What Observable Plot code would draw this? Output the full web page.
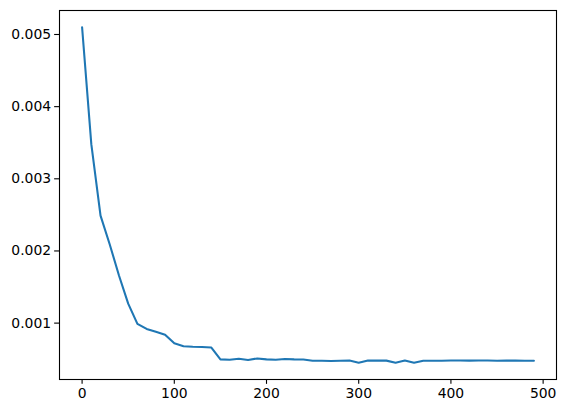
<!DOCTYPE html>
<html>
<head>
<meta charset="utf-8">
<script src="https://cdn.jsdelivr.net/npm/d3@7"></script>
<script src="https://cdn.jsdelivr.net/npm/@observablehq/plot@0.6"></script>
<style>
  html, body { margin: 0; padding: 0; background: #fff; }
</style>
</head>
<body>
<div id="chart"></div>
<script>
const steps = [0,10,20,30,40,50,60,70,80,90,100,110,120,130,140,150,160,170,180,190,200,210,220,230,240,250,260,270,280,290,300,310,320,330,340,350,360,370,380,390,400,410,420,430,440,450,460,470,480,490];
const values = [0.00510,0.00348,0.00249,0.00209,0.00166,0.00127,0.00099,0.00092,0.00088,0.00084,0.00072,0.00068,0.000672,0.00067,0.000663,0.000497,0.000492,0.000506,0.000490,0.000510,0.000497,0.000493,0.000502,0.000497,0.000495,0.000479,0.000479,0.000476,0.000478,0.000481,0.000451,0.000481,0.000480,0.000480,0.000451,0.000481,0.000451,0.000479,0.000479,0.000479,0.000482,0.000481,0.000480,0.000481,0.000482,0.000479,0.000480,0.000480,0.000479,0.000479];
const xTicks = [0,100,200,300,400,500];
const yTicks = [0.001,0.002,0.003,0.004,0.005];

const data = steps.map((s, i) => ({step: s, value: values[i]}));

const xMin = d3.min(steps), xMax = d3.max(steps);
const yMin = d3.min(values), yMax = d3.max(values);
const xPad = (xMax - xMin) * 0.05, yPad = (yMax - yMin) * 0.05;

const chart = Plot.plot({
  width: 565,
  height: 413,
  marginLeft: 59,
  marginRight: 9,
  marginTop: 10,
  marginBottom: 34,
  style: {fontFamily: "DejaVu Sans", fontSize: "13.9px", color: "black", background: "white"},
  x: {domain: [xMin - xPad, xMax + xPad]},
  y: {domain: [yMin - yPad, yMax + yPad]},
  marks: [
    Plot.line(data, {x: "step", y: "value", stroke: "#1f77b4", strokeWidth: 2.08}),
    Plot.frame({stroke: "black", strokeWidth: 1.1}),
    Plot.axisX({ticks: xTicks, tickSize: 4.86, tickPadding: 3.5, label: null, fontSize: 13.9, strokeWidth: 1.1}),
    Plot.axisY({ticks: yTicks, tickSize: 4.86, tickPadding: 3.5, tickFormat: d3.format(".3f"), label: null, fontSize: 13.9, strokeWidth: 1.1})
  ]
});
document.getElementById("chart").appendChild(chart);
</script>
</body>
</html>
